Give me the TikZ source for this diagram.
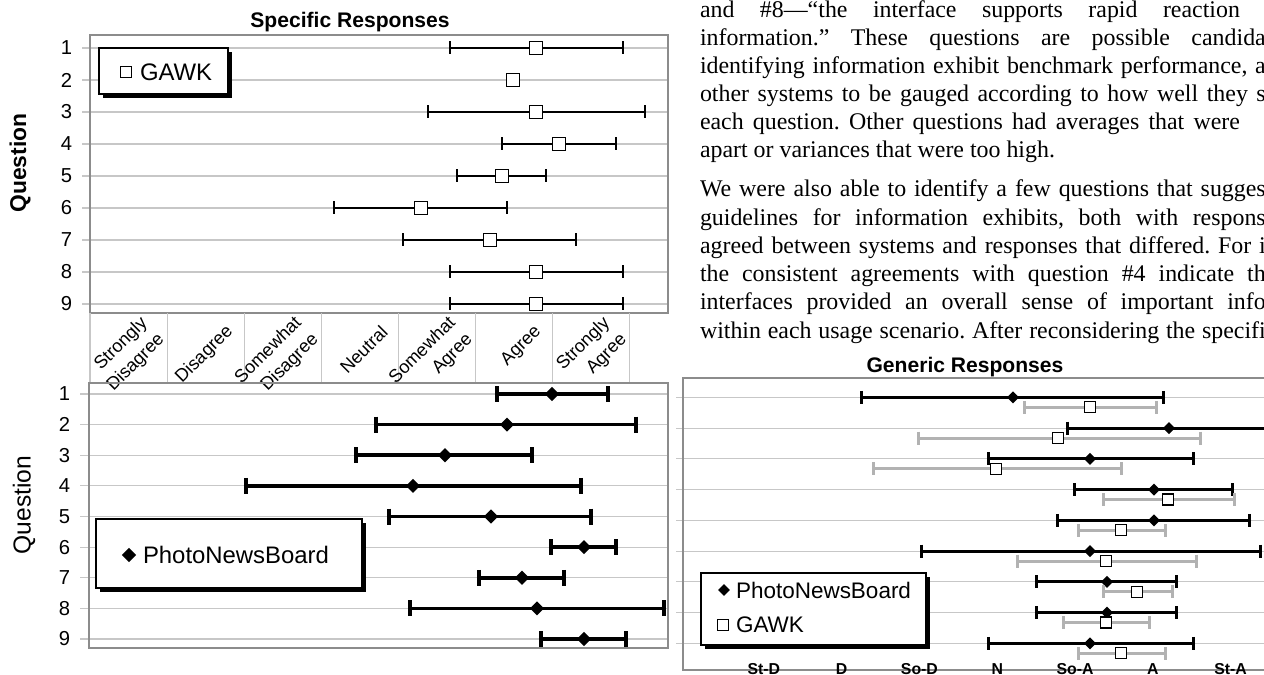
\documentclass[tikz,border=0pt]{standalone}
\usepackage{fontspec}
\setmainfont{Liberation Serif}
\setsansfont{Liberation Sans}
\usepackage{tikz}
\usetikzlibrary{shapes.geometric}
\frenchspacing

\begin{document}
\begin{tikzpicture}[x=0.02cm, y=-0.02cm,
                    every node/.style={inner sep=0pt, outer sep=0pt},
                    bodyline/.style={anchor=base west, font=\fontsize{13.6}{16}\selectfont},
                    ctitle/.style={font=\sffamily\bfseries\fontsize{12}{14}\selectfont},
                    qnum/.style={anchor=east, font=\sffamily\fontsize{11.5}{13}\selectfont},
                    catlab/.style={anchor=east, rotate=45, align=right, font=\sffamily\fontsize{10.3}{13.5}\selectfont},
                    shortlab/.style={anchor=base, font=\sffamily\bfseries\fontsize{9}{10}\selectfont},
                    legtxt/.style={anchor=west, font=\sffamily\fontsize{13.6}{15}\selectfont},
                    gridline/.style={draw=black!22, line width=0.6pt},
                    plotframe/.style={draw=black!45, line width=0.8pt},
                    legbox/.style={draw=black, fill=white, line width=0.7pt},
                    sqmark/.style={rectangle, draw=black, fill=white, line width=0.7pt, minimum size=7pt},
                    dmark/.style={diamond, fill=black, minimum width=8pt, minimum height=8pt}]

                    \clip (0,0) rectangle (1264,675);

                    % text column
                    \draw (700,17.5) node[bodyline] (l1) {\makebox[307.3pt][s]{and \#8—“the interface supports rapid reaction}};
                    \draw (700,45.5) node[bodyline] (l2) {\makebox[322pt][s]{information.” These questions are possible candida}};
                    \draw (700,73.5) node[bodyline] (l3) {\makebox[322pt][s]{identifying information exhibit benchmark performance, a}};
                    \draw (700,101.5) node[bodyline] (l4) {\makebox[322pt][s]{other systems to be gauged according to how well they s}};
                    \draw (700,129.5) node[bodyline] (l5) {\makebox[307.3pt][s]{each question. Other questions had averages that were}};
                    \draw (700,157.5) node[bodyline] (l6) {apart or variances that were too high.};
                    \draw (700,197) node[bodyline] (l7) {\makebox[322pt][s]{We were also able to identify a few questions that sugges}};
                    \draw (700,225.2) node[bodyline] (l8) {\makebox[322pt][s]{guidelines for information exhibits, both with respons}};
                    \draw (700,253.4) node[bodyline] (l9) {\makebox[322pt][s]{agreed between systems and responses that differed. For i}};
                    \draw (700,281.6) node[bodyline] (l10) {\makebox[322pt][s]{the consistent agreements with question \#4 indicate th}};
                    \draw (700,309.8) node[bodyline] (l11) {\makebox[322pt][s]{interfaces provided an overall sense of important info}};
                    \draw (700,338) node[bodyline] (l12) {\makebox[322pt][s]{within each usage scenario. After reconsidering the specifi}};

                    % specific responses
                    \draw (350,22) node[ctitle] (titleS) {Specific Responses};
                    \foreach \r in {1,...,9} {
                        \pgfmathsetmacro{\yy}{48+32*(\r-1)}
                        \draw[gridline] (82,\yy) -- (668,\yy);
                        \draw (72,\yy) node[qnum] (qs\r) {\r};
                    }
                    \draw[plotframe] (90,35) rectangle (668,313);
                    \foreach \v in {0,...,7}
                        \draw[gridline] (90+77.07*\v,313) -- (90+77.07*\v,382);
                    \foreach \v/\lab in {1/{Strongly\\Disagree}, 2/Disagree, 3/{Somewhat\\Disagree}, 4/Neutral,
                                         5/{Somewhat\\Agree}, 6/Agree, 7/{Strongly\\Agree}}
                        \draw (76+77.07*\v,329) node[catlab] (cat\v) {\lab};
                    \draw (20,163) node[rotate=90, font=\sffamily\bfseries\fontsize{13}{15}\selectfont] (qaxS) {Question};
                    \fill (103,52) rectangle (232,98);
                    \draw[legbox] (99,48) rectangle (228,94);
                    \draw (126,72) node[sqmark, minimum size=6.5pt] (legS) {} (140,72) node[legtxt] (legSt) {GAWK};
                    \foreach \r/\lo/\m/\hi in {1/450/536/623, 2/513/513/513, 3/428/536/645, 4/502/559/616, 5/457/502/546,
                                               6/334/421/507, 7/403/490/576, 8/450/536/623, 9/450/536/623} {
                        \pgfmathsetmacro{\yy}{48+32*(\r-1)}
                        \draw[line width=0.9pt] (\lo,\yy) -- (\hi,\yy) (\lo,\yy-6.5) -- (\lo,\yy+6.5) (\hi,\yy-6.5) -- (\hi,\yy+6.5);
                        \draw (\m,\yy) node[sqmark] (gs\r) {};
                    }

                    % photonewsboard
                    \foreach \r in {1,...,9} {
                        \pgfmathsetmacro{\yy}{394+30.625*(\r-1)}
                        \draw[gridline] (80,\yy) -- (668,\yy);
                        \draw (70,\yy) node[qnum] (qp\r) {\r};
                    }
                    \draw[plotframe] (89,383) rectangle (668,648);
                    \draw (24,505) node[rotate=90, font=\sffamily\fontsize{14}{16}\selectfont] (qaxP) {Question};
                    \fill (100,523) rectangle (366,592);
                    \draw[legbox] (96,519) rectangle (362,588);
                    \draw (129,555) node[dmark] (legP) {} (143,555) node[legtxt] (legPt) {PhotoNewsBoard};
                    \foreach \r/\lo/\m/\hi in {1/497/552/608, 2/376/507/636, 3/356/445/532, 4/246/413/581, 5/389/491/591,
                                               6/551/584/616, 7/479/522/564, 8/410/537/664, 9/541/584/626} {
                        \pgfmathsetmacro{\yy}{394+30.625*(\r-1)}
                        \draw[line width=2pt] (\lo,\yy) -- (\hi,\yy) (\lo,\yy-8) -- (\lo,\yy+8) (\hi,\yy-8) -- (\hi,\yy+8);
                        \draw (\m,\yy) node[dmark] (pn\r) {};
                    }

                    % generic responses
                    \draw (965,367) node[ctitle] (titleG) {Generic Responses};
                    \foreach \r in {1,...,9} {
                        \pgfmathsetmacro{\yy}{397.3+30.75*(\r-1)}
                        \draw[gridline] (676,\yy) -- (1264,\yy);
                    }
                    \draw[plotframe] (683,378) rectangle (1300,670);
                    \foreach \v/\lab in {1/St-D, 2/D, 3/So-D, 4/N, 5/So-A, 6/A, 7/St-A}
                        \draw (686+77.8*\v,674) node[shortlab] (sh\v) {\lab};
                    \foreach \r/\lo/\m/\hi in {1/861/1013/1163, 2/1067/1169/1271, 3/988/1090/1193, 4/1074/1154/1232, 5/1057/1154/1249,
                                               6/921/1090/1260, 7/1036/1107/1176, 8/1036/1107/1176, 9/988/1090/1193} {
                        \pgfmathsetmacro{\yy}{397.3+30.75*(\r-1)}
                        \draw[line width=1.7pt] (\lo,\yy) -- (\hi,\yy) (\lo,\yy-6.5) -- (\lo,\yy+6.5) (\hi,\yy-6.5) -- (\hi,\yy+6.5);
                        \draw (\m,\yy) node[dmark, minimum width=6.8pt, minimum height=6.8pt] (gp\r) {};
                    }
                    \foreach \r/\lo/\m/\hi in {1/1024/1090/1156, 2/918/1058/1200, 3/873/996/1121, 4/1103/1168/1234, 5/1078/1121/1165,
                                               6/1017/1106/1196, 7/1103/1137/1172, 8/1063/1106/1149, 9/1078/1121/1165} {
                        \pgfmathsetmacro{\yy}{407.3+30.75*(\r-1)}
                        \draw[line width=1.7pt, black!30] (\lo,\yy) -- (\hi,\yy) (\lo,\yy-6.5) -- (\lo,\yy+6.5) (\hi,\yy-6.5) -- (\hi,\yy+6.5);
                        \draw (\m,\yy) node[sqmark, minimum size=6.3pt] (gg\r) {};
                    }
                    \fill (705,577) rectangle (930,649);
                    \draw[legbox] (701,573) rectangle (926,645);
                    \draw (724,590) node[dmark, minimum width=6.8pt, minimum height=6.8pt] (legGp) {}
                          (736,590) node[legtxt, font=\sffamily\fontsize{12.8}{14}\selectfont] (legGpt) {PhotoNewsBoard};
                    \draw (723,625) node[sqmark, minimum size=6.3pt] (legGg) {}
                          (736,625) node[legtxt, font=\sffamily\fontsize{12.8}{14}\selectfont] (legGgt) {GAWK};
                \end{tikzpicture}
\end{document}
